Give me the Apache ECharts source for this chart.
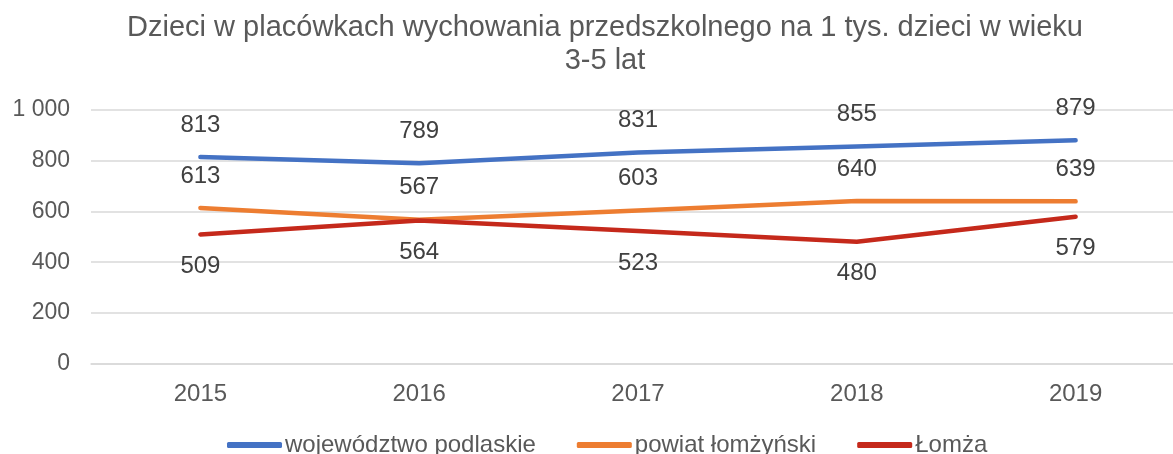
<!DOCTYPE html>
<html>
<head>
<meta charset="utf-8">
<script src="https://cdn.jsdelivr.net/npm/echarts@6/dist/echarts.min.js"></script>
<style>
  html, body { margin: 0; padding: 0; background: #fff; overflow: hidden; }
  /* the plot runs a little past the right edge of the window */
  #chart { width: 1190px; height: 454px; }
</style>
</head>
<body>
<div id="chart"></div>
<script>
// Lata (kategorie osi X)
const years = ['2015', '2016', '2017', '2018', '2019'];
// Wartości serii
const wojewodztwo = [813, 789, 831, 855, 879];
const powiat = [613, 567, 603, 640, 639];
const lomza = [509, 564, 523, 480, 579];
// Nazwy serii
const seriesNames = ['województwo podlaskie', 'powiat łomżyński', 'Łomża'];
const titleLines = ['Dzieci w placówkach wychowania przedszkolnego na 1 tys. dzieci w wieku', '3-5 lat'];

const FONT = '"Liberation Sans", Arial, sans-serif';
const TXT = '#595959';

function lineSeries(name, data, color, labelPos) {
  return {
    name: name,
    type: 'line',
    data: data,
    symbol: 'circle',
    symbolSize: 0,
    showSymbol: true,
    itemStyle: { color: color },
    lineStyle: { color: color, width: 4.5, cap: 'round', join: 'round' },
    label: {
      show: true,
      position: labelPos,
      distance: 20,
      color: '#404040',
      fontFamily: FONT,
      fontSize: 24
    },
    emphasis: { disabled: true },
    animation: false
  };
}

const chart = echarts.init(document.getElementById('chart'), null, { renderer: 'canvas' });
chart.setOption({
  backgroundColor: '#fff',
  animation: false,
  title: titleLines.map((t, i) => ({
    text: t,
    left: 605,
    top: 13 + i * 33,
    padding: 0,
    textAlign: 'center',
    textStyle: { color: TXT, fontFamily: FONT, fontSize: 29, fontWeight: 'normal' }
  })),
  legend: {
    data: seriesNames,
    left: 227,
    top: 433,
    padding: 0,
    itemWidth: 55,
    itemHeight: 6,
    itemGap: 41,
    icon: 'roundRect',
    textStyle: { color: TXT, fontFamily: FONT, fontSize: 24, padding: [0, 0, 0, -2] }
  },
  grid: { left: 91, top: 109.5, width: 1094, height: 254.5, containLabel: false },
  xAxis: {
    type: 'category',
    data: years,
    boundaryGap: true,
    axisLine: { show: true, lineStyle: { color: '#D9D9D9', width: 1.5 } },
    axisTick: { show: false },
    axisLabel: { color: TXT, fontFamily: FONT, fontSize: 24, margin: 18 }
  },
  yAxis: {
    type: 'value',
    min: 0,
    max: 1000,
    interval: 200,
    axisLine: { show: false },
    axisTick: { show: false },
    splitLine: { lineStyle: { color: '#D9D9D9', width: 1.5 } },
    axisLabel: {
      color: TXT, fontFamily: FONT, fontSize: 23, margin: 21,
      formatter: v => String(v).replace(/\B(?=(\d{3})+(?!\d))/g, ' ')
    }
  },
  series: [
    lineSeries(seriesNames[0], wojewodztwo, '#4472C4', 'top'),
    lineSeries(seriesNames[1], powiat, '#ED7D31', 'top'),
    lineSeries(seriesNames[2], lomza, '#C5291B', 'bottom')
  ]
});
</script>
</body>
</html>
